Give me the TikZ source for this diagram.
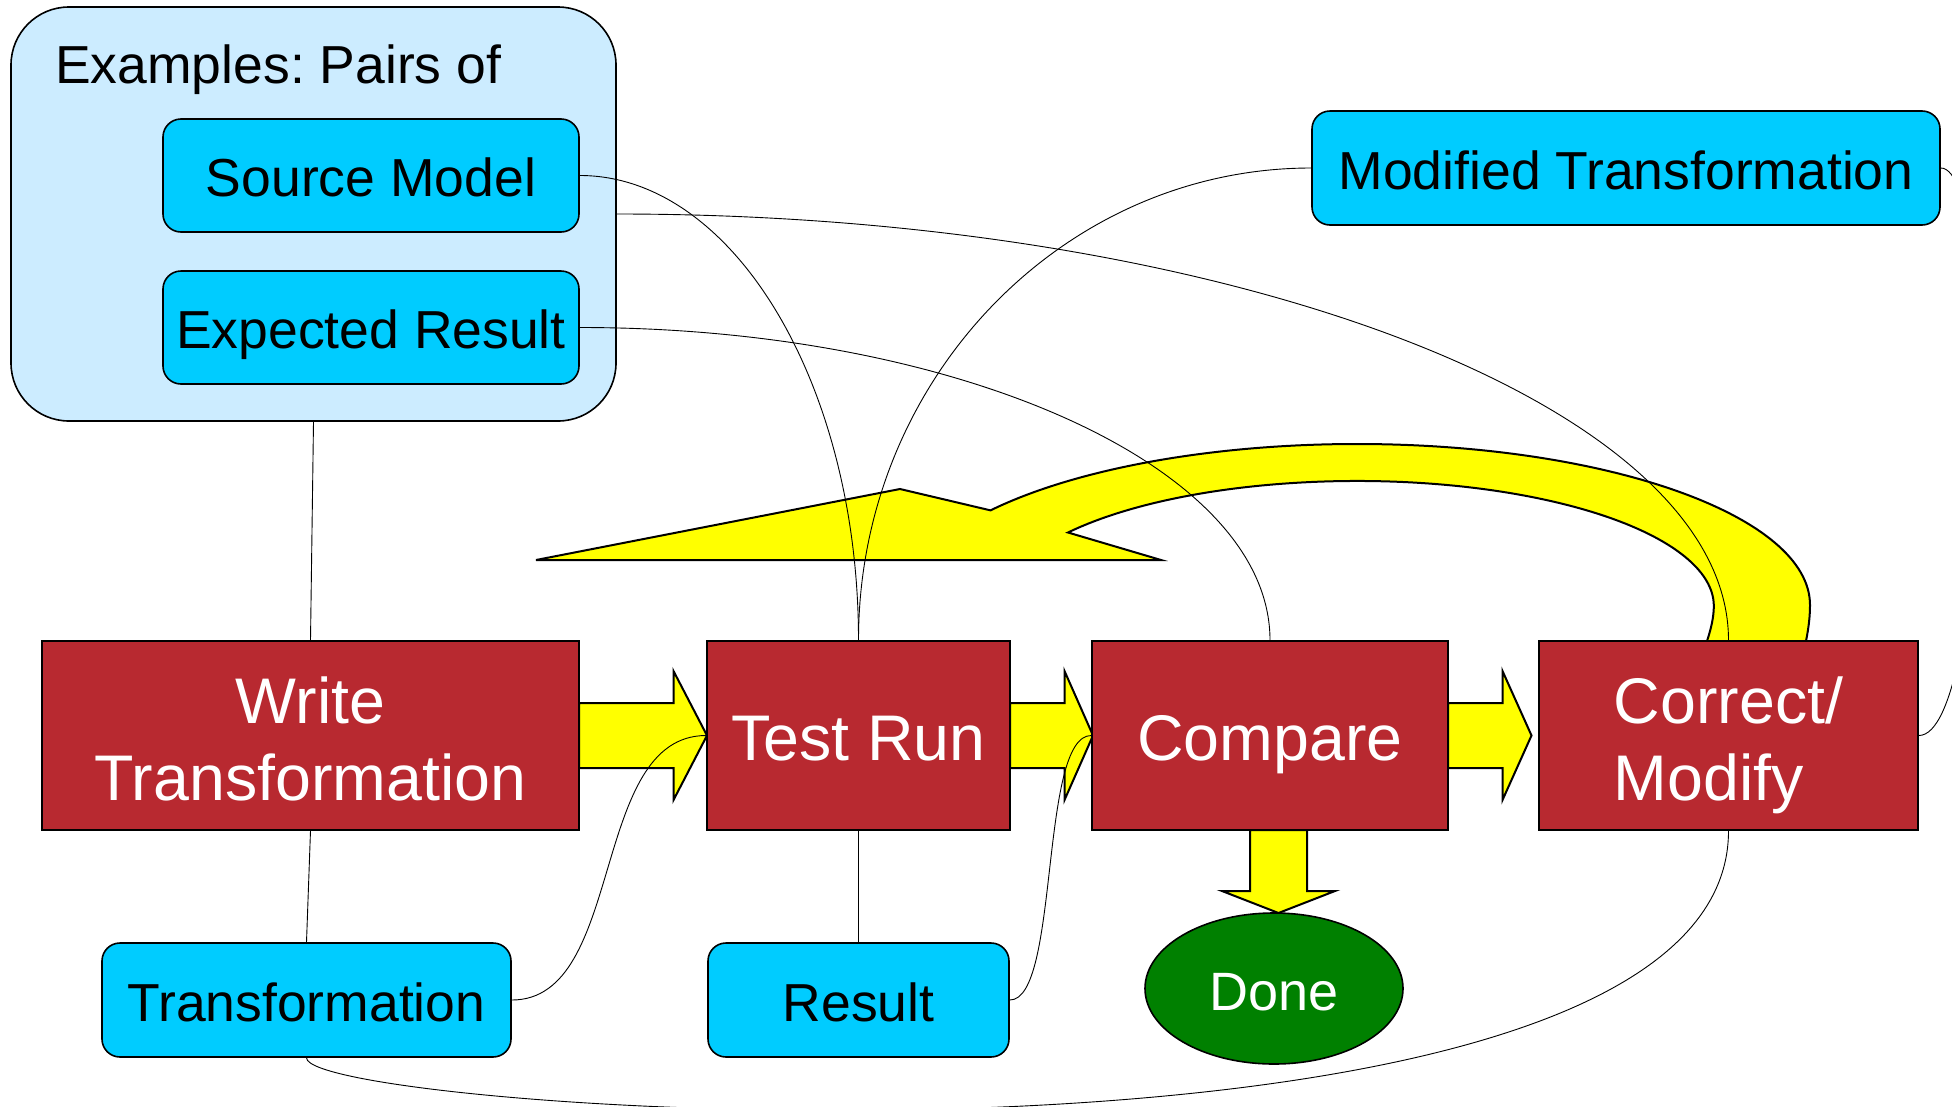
\documentclass[tikz,border=0pt]{standalone}
\usepackage{fontspec}
\setmainfont{Liberation Sans}
\usetikzlibrary{shapes.geometric,calc}

\definecolor{boxred}{RGB}{184,41,48}
\definecolor{boxcyan}{RGB}{0,204,255}
\definecolor{panelblue}{RGB}{204,236,255}
\definecolor{donegreen}{RGB}{0,128,0}
\definecolor{flowyellow}{RGB}{255,255,0}

\pgfdeclarelayer{back}
\pgfdeclarelayer{mid}
\pgfsetlayers{back,mid,main}

\tikzset{
  artefact/.style={draw=black, line width=1.6pt, fill=boxcyan, rounded corners=18pt,
    font=\fontsize{53.5}{60}\selectfont, text height=42pt, text depth=0pt, inner sep=0pt},
  activity/.style={draw=black, line width=1.6pt, fill=boxred, text=white,
    font=\fontsize{64.5}{77}\selectfont, inner sep=0pt, minimum height=189pt},
  link/.style={draw=black, line width=0.9pt},
  flow/.style={draw=black, line width=2pt, fill=flowyellow, line join=miter},
}

\begin{document}
\frenchspacing
\begin{tikzpicture}[x=1pt, y=-1pt]
\useasboundingbox (0,0) rectangle (1952,1106);

% example pairs panel
\begin{pgfonlayer}{back}
  \fill[white] (0,0) rectangle (1952,1106);
  \node[draw=black, line width=1.6pt, fill=panelblue, rounded corners=58pt,
        minimum width=605pt, minimum height=414pt, inner sep=0pt] (ex) at (313.5,214) {};
  \node[anchor=base west, font=\fontsize{53.5}{60}\selectfont, inner sep=0pt] (extitle) at (55,83) {Examples: Pairs of};
\end{pgfonlayer}

% artefacts
\node[artefact, minimum width=416pt, minimum height=113pt] (src) at (371,175.5) {Source Model};
\node[artefact, minimum width=416pt, minimum height=113pt] (exp) at (371,327.5) {Expected Result};
\node[artefact, minimum width=628pt, minimum height=114pt] (mod) at (1626,168) {Modified Transformation};
\node[artefact, minimum width=409pt, minimum height=114pt] (trans) at (306.5,1000) {Transformation};
\node[artefact, minimum width=301pt, minimum height=114pt] (res) at (858.5,1000) {Result};

% activities
\node[activity, minimum width=537pt, align=center, text height=129pt, text depth=0pt] (write) at (310.5,735.5) {Write\\Transformation};
\node[activity, minimum width=303pt, text height=50pt, text depth=0pt] (test) at (858.5,735.5) {Test Run};
\node[activity, minimum width=356pt, text height=50pt, text depth=0pt] (cmp) at (1270,735.5) {Compare};
\node[activity, minimum width=379pt, align=left, text height=129pt, text depth=0pt] (cor) at (1728.5,735.5) {Correct/\\Modify};

\node[ellipse, draw=black, line width=1.6pt, fill=donegreen, text=white,
      font=\fontsize{54}{60}\selectfont, minimum width=258pt, minimum height=151pt,
      inner sep=0pt, text height=43pt, text depth=0pt] (done) at (1274,988.5) {Done};

\begin{pgfonlayer}{mid}
  % return arrow from Correct/Modify back over the flow
  \draw[flow] (1806,641) .. controls (1809,626) and (1810,615) .. (1810,605)
    arc[start angle=0, end angle=-144, x radius=453, y radius=161]
    -- (900,489) -- (536,560) -- (1161,560) -- (1068,532.5)
    arc[start angle=-144, end angle=0, x radius=357, y radius=125]
    .. controls (1713.8,617) and (1711,629) .. (1707,641) -- cycle;

  % block arrows of the main flow
  \draw[flow] (579,703) -- (673.5,703) -- (673.5,671) -- (707,735.5) -- (673.5,800) -- (673.5,768) -- (579,768) -- cycle;
  \draw[flow] (1010,703) -- (1064.5,703) -- (1064.5,671) -- (1093,735.5) -- (1064.5,800) -- (1064.5,768) -- (1010,768) -- cycle;
  \draw[flow] (1448,703) -- (1502.5,703) -- (1502.5,671) -- (1531.5,735.5) -- (1502.5,800) -- (1502.5,768) -- (1448,768) -- cycle;
  \draw[flow] (1250,830) -- (1250,891) -- (1222,891) -- (1278.5,913) -- (1335,891) -- (1307,891) -- (1307,830) -- cycle;

  % data links
  \draw[link] (ex.south) -- (write.north);
  \draw[link] (write.south) -- (trans.north);
  \draw[link] (test.south) -- (res.north);
  \draw[link] (src.east) .. controls +(154,0) and +(0,-255) .. (test.north);
  \draw[link] (mod.west) .. controls +(-249,0) and +(0,-260) .. (test.north);
  \draw[link] (ex.east) .. controls +(611,0) and +(0,-235) .. (cor.north);
  \draw[link] (exp.east) .. controls +(380,0) and +(0,-173) .. (cmp.north);
  \draw[link] (trans.east) .. controls +(114,0) and +(-117,0) .. (test.west);
  \draw[link] (res.east) .. controls +(50,0) and +(-52,0) .. (cmp.west);
  \draw[link] (trans.south) .. controls +(0,56) and +(0,376) .. (cor.south);
  \draw[link] (mod.east) .. controls +(60,0) and +(72,0) .. (cor.east);
\end{pgfonlayer}
\end{tikzpicture}
\end{document}
